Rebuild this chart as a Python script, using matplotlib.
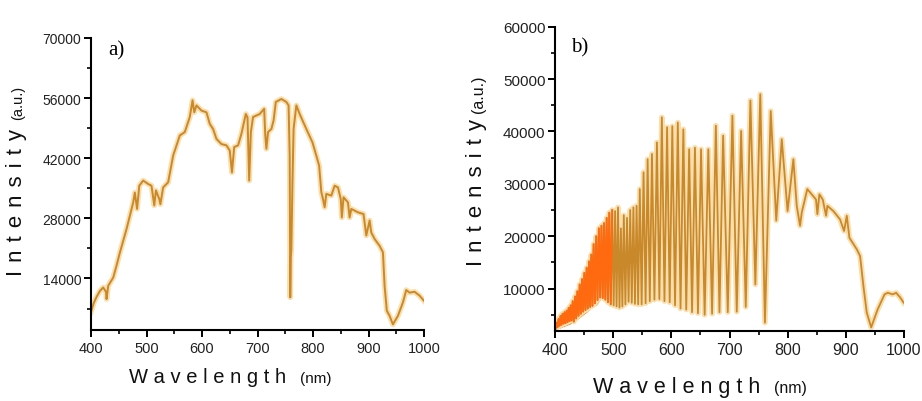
import numpy as np
import matplotlib.pyplot as plt
from matplotlib.ticker import MultipleLocator

# ---- panel a: solar spectrum ----
a_wl = [400, 405, 410, 416, 422, 427, 428, 431, 440, 446, 452, 464, 476, 479, 483,
        487, 494, 503, 509, 514, 517, 523, 525, 530, 539, 548, 560, 569, 578, 583,
        586, 590, 599, 608, 614, 620, 626, 635, 644, 650, 654, 658, 665, 671, 679,
        682, 685, 688, 692, 704, 712, 714, 716, 719, 725, 729, 733, 743, 752, 756,
        758, 759, 760, 761, 763, 765, 770, 776, 788, 799, 806, 811, 815, 818, 821,
        824, 833, 839, 845, 850, 852, 855, 863, 866, 869, 881, 891, 896, 902, 905,
        911, 920, 926, 929, 933, 938, 944, 953, 962, 968, 974, 983, 992, 1000]
a_int = [6200, 8300, 9700, 11100, 11900, 10900, 9200, 12300, 14200, 17000, 20000,
         25500, 31700, 34000, 30200, 35600, 36800, 36000, 35600, 31000, 34500, 32500,
         31300, 35200, 36400, 42600, 47300, 48100, 51600, 55500, 52700, 54300, 53100,
         52700, 50000, 48800, 46500, 45300, 45000, 43800, 38700, 44600, 45000, 47700,
         52300, 51500, 36800, 48100, 51600, 52300, 53500, 47300, 44200, 48100, 48800,
         50800, 55100, 55800, 55100, 54300, 42600, 9600, 18900, 20800, 36400, 48800,
         54300, 52300, 48800, 45700, 42600, 40300, 34100, 32500, 30600, 33700, 33300,
         35600, 35200, 32500, 28200, 32900, 31700, 28200, 30200, 29400, 29000, 24000,
         27500, 24700, 23200, 21600, 20100, 12300, 6500, 5300, 3300, 5300, 8400,
         11300, 10700, 10900, 10000, 8800]

# ---- panel b: fringed spectrum, fringe maxima / minima and smooth tail ----
b_peak_wl = [402, 405.5, 409, 412.5, 416, 419.5, 423, 426.5, 430, 434, 438, 442, 446,
             450, 454, 458, 462, 466, 470.5, 475, 479.5, 484, 488.5, 493, 498, 503,
             508, 513, 518, 523.5, 529, 534.5, 540, 545.5, 552, 559, 566.5, 575,
             583.5, 592.5, 601.5, 611, 620.5, 630.5, 640.5, 651, 663.5, 676.5, 689,
             705, 720, 736, 753, 771, 790, 810]
b_peak_int = [3500, 4200, 4800, 5200, 5500, 5800, 6300, 6800, 7600, 8500, 9500, 10800,
              11800, 13000, 14000, 15200, 16500, 18500, 20000, 21500, 22000, 22500,
              23500, 24500, 25000, 24800, 25500, 21500, 24000, 23500, 25000, 25500,
              25800, 29000, 32200, 34700, 35700, 37900, 42700, 40800, 41000, 41700,
              40400, 36600, 36900, 36600, 36600, 41100, 39200, 43000, 40100, 45900,
              47100, 43900, 38500, 34700]
b_valley_wl = [400, 403.7, 407.2, 410.7, 414.2, 417.7, 421.2, 424.7, 428.2, 432, 436,
               440, 444, 448, 452, 456, 460, 464, 468.2, 472.7, 477.2, 481.7, 486.2,
               490.7, 495.5, 500.5, 505.5, 510.5, 515.5, 520.7, 526.2, 531.7, 537.2,
               542.7, 548.7, 555.5, 562.7, 570.7, 579.2, 588, 597, 606.2, 615.7, 625.5,
               635.5, 645.7, 657.2, 670, 682.7, 697, 712.5, 728, 744.5, 761, 780.5, 800]
b_valley_int = [2000, 2600, 2900, 3100, 3300, 3400, 3600, 3800, 3900, 3700, 4300, 4800,
                5200, 5600, 5900, 6200, 6500, 6700, 7200, 7800, 8300, 8200, 7900, 7400,
                7000, 6800, 6600, 6400, 6600, 7000, 7500, 7300, 7100, 7000, 7000, 7200,
                7600, 7900, 8000, 7600, 7400, 6800, 6200, 6000, 5500, 5300, 5000, 5200,
                5500, 5500, 5600, 6500, 10800, 3500, 23000, 24800]
b_tail_wl = [815.8, 821.5, 824.4, 834, 841.6, 849, 851.3, 854.8, 860.6, 866.3, 868.6,
             878.9, 890.4, 897.3, 902, 906.5, 913.4, 919.2, 924.9, 930.6, 936.4, 944,
             955, 967, 972.5, 981, 987, 994, 1000]
b_tail_int = [25800, 22000, 24500, 29000, 28000, 27000, 24200, 28000, 27000, 23900,
              25800, 24800, 23200, 21000, 23900, 19700, 18500, 17500, 16200, 10500,
              5400, 2600, 6000, 8900, 9200, 8900, 9200, 8300, 7300]
# unresolved dense fringes at the blue end (solid orange band in the picture)
b_band_wl = [400, 410, 420, 431, 440, 454, 462, 471, 480, 490, 500, 510, 520]
b_band_top = [2200, 4000, 5500, 8000, 10500, 12400, 15000, 16900, 20000, 20500,
              19500, 18500, 11000]
b_band_bot = [2000, 2600, 3000, 3500, 4300, 5500, 6300, 6900, 8300, 9000, 9300,
              9500, 10500]

W, H = 922, 402
LINE = '#c9892a'
HALO = '#fadfae'
ORANGE = '#ff6a10'
SANS = ['Liberation Sans', 'DejaVu Sans']

fig = plt.figure(figsize=(W / 100, H / 100), dpi=100)


def px(x, y):
    return x / W, 1 - y / H


def style_axes(ax, xsize, ysize):
    for s in ('top', 'right'):
        ax.spines[s].set_visible(False)
    for s in ('left', 'bottom'):
        ax.spines[s].set_linewidth(1.5)
    ax.tick_params(which='major', direction='out', length=5, width=1.4, color='black')
    ax.tick_params(which='minor', direction='out', length=3, width=1.2, color='black')
    ax.tick_params(axis='x', labelsize=xsize, pad=3)
    ax.tick_params(axis='y', labelsize=ysize, pad=2)
    for lab in ax.get_xticklabels() + ax.get_yticklabels():
        lab.set_family(SANS)
        lab.set_color('#222222')


# panel a
ax1 = fig.add_axes([91 / W, 1 - 331 / H, 333 / W, 292 / H])
ax1.plot(a_wl, a_int, color=HALO, lw=4, solid_joinstyle='round')
ax1.plot(a_wl, a_int, color=LINE, lw=1.4)
ax1.set_xlim(400, 1000)
ax1.set_ylim(2000, 70000)
ax1.xaxis.set_major_locator(MultipleLocator(100))
ax1.xaxis.set_minor_locator(MultipleLocator(50))
ax1.set_yticks([14000, 28000, 42000, 56000, 70000])
ax1.yaxis.set_minor_locator(MultipleLocator(7000))
style_axes(ax1, 10.5, 10)

# panel b
fr_wl = np.array(b_peak_wl + b_valley_wl)
fr_int = np.array(b_peak_int + b_valley_int)
order = np.argsort(fr_wl)
b_wl = np.concatenate([fr_wl[order], b_tail_wl])
b_int = np.concatenate([fr_int[order], b_tail_int])

ax2 = fig.add_axes([555.3 / W, 1 - 331.5 / H, 348.4 / W, 303.8 / H])
ax2.plot(b_wl, b_int, color=HALO, lw=4, solid_joinstyle='round')
ax2.fill_between(b_band_wl, b_band_bot, b_band_top, color=ORANGE, lw=0,
                 alpha=0.9, zorder=1.5)
ax2.plot(b_wl, b_int, color=LINE, lw=1.3)
dense = b_wl <= 500
ax2.plot(b_wl[dense], b_int[dense], color=ORANGE, lw=1.3)
ax2.set_xlim(400, 1000)
ax2.set_ylim(2000, 60000)
ax2.xaxis.set_major_locator(MultipleLocator(100))
ax2.xaxis.set_minor_locator(MultipleLocator(50))
ax2.set_yticks([10000, 20000, 30000, 40000, 50000, 60000])
ax2.yaxis.set_minor_locator(MultipleLocator(5000))
style_axes(ax2, 11.5, 11)

# axis titles with letter spacing
inten = ' \u200a'.join('Intensity')
wave = ' '.join('Wavelength')
lab = dict(family=SANS, color='#111111', ha='center', va='center')
fig.text(*px(17, 202), inten, rotation=90, fontsize=16, **lab)
fig.text(*px(18, 103), '(a.u.)', rotation=90, fontsize=10.5, **lab)
fig.text(*px(208, 378), wave, fontsize=14.5, **lab)
fig.text(*px(316, 379), '(nm)', fontsize=11, **lab)

fig.text(*px(476, 193), inten, rotation=90, fontsize=16, **lab)
fig.text(*px(478, 94), '(a.u.)', rotation=90, fontsize=11.5, **lab)
fig.text(*px(677, 388), wave, fontsize=15.5, **lab)
fig.text(*px(790, 389), '(nm)', fontsize=11.5, **lab)

# panel letters
fig.text(*px(116, 51), 'a)', family='Liberation Serif', fontsize=15, ha='center', va='center')
fig.text(*px(580, 48), 'b)', family='Liberation Serif', fontsize=15, ha='center', va='center')

fig.savefig('out.png', dpi=100)
